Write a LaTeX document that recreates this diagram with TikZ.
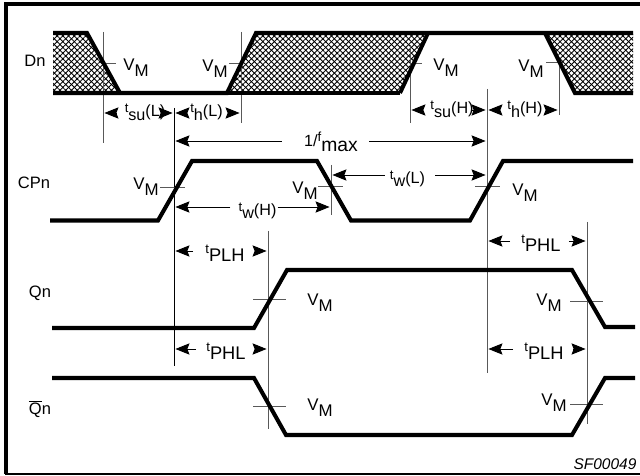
\documentclass[tikz,border=0pt]{standalone}
\usepackage{fontspec}
\setmainfont{Liberation Sans}
\usepackage{tikz}
\usetikzlibrary{arrows.meta, patterns.meta}
\newcommand{\sz}[1]{\fontsize{#1}{#1}\selectfont}
% raised letter, lowered letters
\newcommand{\updown}[2]{\raisebox{2.5pt}{\sz{7.5}#1}\raisebox{-2pt}{#2}}
\newcommand{\vm}{\raisebox{1.6pt}{V}\raisebox{-1.6pt}{M}}
\tikzset{
  wave/.style={line width=2.3pt,line join=miter},
  vline/.style={black!65,line width=0.55pt},
  tick/.style={black!65,line width=0.55pt},
  dimarrow/.style={line width=0.55pt,-{Stealth[length=8pt,width=6.4pt,inset=1.2pt]},shorten >=0.8pt},
  tail/.style={shorten <=#1*0.567pt},
  hatch/.style={pattern={Lines[angle=45,distance=2.3pt,line width=0.5pt]}},
  hatchb/.style={pattern={Lines[angle=-45,distance=2.3pt,line width=0.5pt]}},
  sig/.style={font=\sz{9.4},inner sep=0pt},
  lab/.style={font=\sz{9.6},inner sep=0pt,text height=7pt,text depth=2pt},
  timelab/.style={font=\sz{9.2},inner sep=0pt,text height=7pt,text depth=3pt},
  proplab/.style={font=\sz{10.4},inner sep=0pt,text height=7pt,text depth=3pt}
}
\begin{document}
\begin{tikzpicture}[x=0.02cm,y=-0.02cm]
\useasboundingbox (0,0) rectangle (640,476);
% frame
\draw[line width=1.9pt] (640,4) -- (6,4) -- (6,474.3);
\draw[line width=1pt] (5,474.3) -- (640,474.3);
% hatching
\foreach \h in {hatch,hatchb}{
\path[\h] (53,33) -- (87,33) -- (120,93) -- (53,93) -- cycle;
\path[\h] (256,33) -- (428,33) -- (400,93) -- (227,93) -- cycle;
\path[\h] (545,33) -- (633,33) -- (633,93) -- (575,93) -- cycle;
}
% reference lines
\coordinate (a1) at (103,32);   \coordinate (a2) at (103,143);
\coordinate (b1) at (174,108);  \coordinate (b2) at (174,366);
\coordinate (c1) at (241,32);   \coordinate (c2) at (241,123);
\coordinate (d1) at (331,165);  \coordinate (d2) at (331,215);
\coordinate (e1) at (410,45);   \coordinate (e2) at (410,123);
\coordinate (f1) at (487,89);   \coordinate (f2) at (487,373);
\coordinate (g1) at (559,60);   \coordinate (g2) at (559,115);
\coordinate (h1) at (268,231);  \coordinate (h2) at (268,429);
\coordinate (i1) at (587,222);  \coordinate (i2) at (587,424);
\draw[vline] (a1) -- (a2);
\draw[black,line width=0.55pt] (b1) -- (b2);
\draw[vline] (c1) -- (c2);
\draw[vline] (d1) -- (d2);
\draw[vline] (e1) -- (e2);
\draw[vline] (f1) -- (f2);
\draw[vline] (g1) -- (g2);
\draw[vline] (h1) -- (h2);
\draw[vline] (i1) -- (i2);
% VM ticks
\draw[tick] (103,63) -- (116,63);
\draw[tick] (229,63) -- (241,63);
\draw[tick] (410,63) -- (422,63);
\draw[tick] (546,62) -- (559,62);
\draw[tick] (160,187) -- (185,187);
\draw[tick] (318,186) -- (343,186);
\draw[tick] (475,186) -- (500,186);
\draw[tick] (253,299) -- (286,299);
\draw[tick] (570,301) -- (603,301);
\draw[tick] (253,406) -- (286,406);
\draw[tick] (570,404) -- (603,404);
% waveforms
\draw[wave] (53,33) -- (87,33) -- (120,93);
\draw[wave] (53,93) -- (227,93) -- (256,33) -- (633,33);
\draw[wave] (400,93) -- (428,33);
\draw[wave] (545,33) -- (575,93) -- (633,93);
\draw[wave] (400,93) -- (227,93);
\draw[wave] (50,220.5) -- (158,220.5) -- (192,161) -- (317,161) -- (351,220.5) -- (470,220.5) -- (503,161) -- (633,161);
\draw[wave] (52,328) -- (254,328) -- (287,270) -- (572,270) -- (605,327) -- (635,327);
\draw[wave] (52,378) -- (254,378) -- (286,435) -- (572,435) -- (605,378) -- (635,378);
% signal names
\node[sig] (dn) at (35,61) {Dn};
\node[sig] (cpn) at (34,183) {CPn};
\node[sig] (qn) at (40,293) {Qn};
\node[sig] (qbn) at (40,409) {$\overline{\mbox{Q}}$n};
% VM labels
\node[lab] (vm1) at (136,69) {\vm};
\node[lab] (vm2) at (215,70) {\vm};
\node[lab] (vm3) at (446,69) {\vm};
\node[lab] (vm4) at (531,70) {\vm};
\node[lab] (vm5) at (146,188) {\vm};
\node[lab] (vm6) at (305,192) {\vm};
\node[lab] (vm7) at (525,194) {\vm};
\node[lab] (vm8) at (320,304) {\vm};
\node[lab] (vm9) at (549,304) {\vm};
\node[lab] (vm10) at (320,409) {\vm};
\node[lab] (vm11) at (554,404) {\vm};
% timing labels
\node[timelab] (tsuL) at (145,113) {\updown{t}{su}(L)};
\node[timelab] (thL) at (206.5,113) {\updown{t}{h}(L)};
\node[timelab] (fmax) at (331,141) {\raisebox{-1pt}{1/\raisebox{2.5pt}{\sz{7.5}f}\raisebox{-3pt}{\sz{11}max}}};
\node[timelab] (twH) at (257.5,207) {\raisebox{-2.8pt}{\updown{t}{w}(H)}};
\node[timelab] (twL) at (407.5,175) {\raisebox{-2.8pt}{\updown{t}{w}(L)}};
\node[timelab] (tsuH) at (452,110) {\updown{t}{su}(H)};
\node[timelab] (thH) at (525,110) {\updown{t}{h}(H)};
\node[proplab] (tplhA) at (225,251) {\raisebox{-2pt}{\updown{t}{PLH}}};
\node[proplab] (tphlA) at (226,349) {\raisebox{-2pt}{\updown{t}{PHL}}};
\node[proplab] (tphlB) at (541,241) {\raisebox{-2pt}{\updown{t}{PHL}}};
\node[proplab] (tplhB) at (544,349) {\raisebox{-2pt}{\updown{t}{PLH}}};
% timing arrows
\draw[dimarrow,tail=8] (tsuL) -- (tsuL -| a1);
\draw[dimarrow] (tsuL) -- (tsuL -| b1);
\draw[dimarrow,tail=5] (thL) -- (thL -| b1);
\draw[dimarrow,tail=9] (thL) -- (thL -| c1);
\draw[dimarrow,tail=22] (fmax) -- (fmax -| b1);
\draw[dimarrow,tail=11] (fmax) -- (fmax -| f1);
\draw[dimarrow,tail=8] (twH) -- (twH -| b1);
\draw[dimarrow,tail=1] (twH) -- (twH -| d1);
\draw[dimarrow,tail=5] (twL) -- (twL -| d1);
\draw[dimarrow,tail=10] (twL) -- (twL -| f1);
\draw[dimarrow,tail=9] (tsuH) -- (tsuH -| e1);
\draw[dimarrow,tail=2] (tsuH) -- (tsuH -| f1);
\draw[dimarrow,tail=10] (thH) -- (thH -| f1);
\draw[dimarrow,tail=3] (thH) -- (thH -| g1);
\draw[dimarrow,tail=12] (tplhA) -- (tplhA -| b1);
\draw[dimarrow,tail=10] (tplhA) -- (tplhA -| h1);
\draw[dimarrow,tail=10] (tphlA) -- (tphlA -| b1);
\draw[dimarrow,tail=9] (tphlA) -- (tphlA -| h1);
\draw[dimarrow,tail=11] (tphlB) -- (tphlB -| f1);
\draw[dimarrow,tail=8] (tphlB) -- (tphlB -| i1);
\draw[dimarrow,tail=11] (tplhB) -- (tplhB -| f1);
\draw[dimarrow,tail=9] (tplhB) -- (tplhB -| i1);
\node[font=\sz{8.8}\itshape,inner sep=0pt] (sfno) at (605,464) {SF00049};
\end{tikzpicture}
\end{document}
